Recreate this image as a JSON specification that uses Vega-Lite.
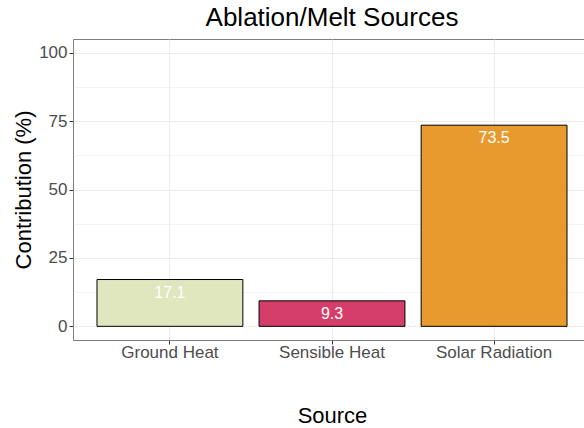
{
  "$schema": "https://vega.github.io/schema/vega-lite/v6.json",
  "width": 518,
  "height": 301,
  "autosize": {"type": "none"},
  "padding": {"left": 73, "top": 39, "right": 0, "bottom": 88},
  "background": "white",
  "config": {
    "font": "Liberation Sans",
    "view": {"stroke": "#7F7F7F", "strokeWidth": 1},
    "axis": {
      "labelFont": "Liberation Sans",
      "titleFont": "Liberation Sans",
      "labelFontSize": 17,
      "labelColor": "#4D4D4D",
      "titleFontSize": 22,
      "titleFontWeight": "normal",
      "titleColor": "black",
      "domain": false,
      "tickColor": "#333333",
      "tickSize": 4,
      "gridColor": "#EBEBEB",
      "gridWidth": 1
    }
  },
  "title": {
    "text": "Ablation/Melt Sources",
    "fontSize": 26,
    "font": "Liberation Sans",
    "fontWeight": "normal",
    "color": "black",
    "anchor": "middle",
    "offset": 8
  },
  "data": {
    "values": [
      {"Source": "Ground Heat", "Contribution": 17.1},
      {"Source": "Sensible Heat", "Contribution": 9.3},
      {"Source": "Solar Radiation", "Contribution": 73.5}
    ]
  },
  "encoding": {
    "x": {
      "field": "Source",
      "type": "nominal",
      "sort": null,
      "scale": {"paddingInner": 0.1, "paddingOuter": 0.148},
      "axis": {
        "title": "Source",
        "labelAngle": 0,
        "grid": true,
        "bandPosition": 0.5,
        "labelPadding": 0,
        "titlePadding": 45
      }
    },
    "y": {
      "field": "Contribution",
      "type": "quantitative",
      "scale": {"domain": [-5, 105], "nice": false, "zero": false}
    }
  },
  "layer": [
    {
      "mark": {"type": "bar", "stroke": "black", "strokeWidth": 1},
      "encoding": {
        "y": {
          "field": "Contribution",
          "type": "quantitative",
          "axis": {
            "title": "Contribution (%)",
            "orient": "left",
            "values": [0, 25, 50, 75, 100],
            "grid": true,
            "labelPadding": 2,
            "titlePadding": 3
          }
        },
        "fill": {
          "field": "Source",
          "type": "nominal",
          "legend": null,
          "scale": {
            "domain": ["Ground Heat", "Sensible Heat", "Solar Radiation"],
            "range": ["#E0E6BE", "#D53D6A", "#E89A2E"]
          }
        }
      }
    },
    {
      "mark": {"type": "text", "color": "white", "fontSize": 16, "baseline": "middle", "dy": 13},
      "encoding": {
        "text": {"field": "Contribution", "type": "quantitative", "format": ".1f"},
        "y": {
          "field": "Contribution",
          "type": "quantitative",
          "axis": {
            "orient": "left",
            "values": [12.5, 37.5, 62.5, 87.5],
            "grid": true,
            "gridWidth": 0.6,
            "labels": false,
            "ticks": false,
            "title": null
          }
        }
      }
    }
  ],
  "resolve": {"axis": {"y": "independent"}}
}
